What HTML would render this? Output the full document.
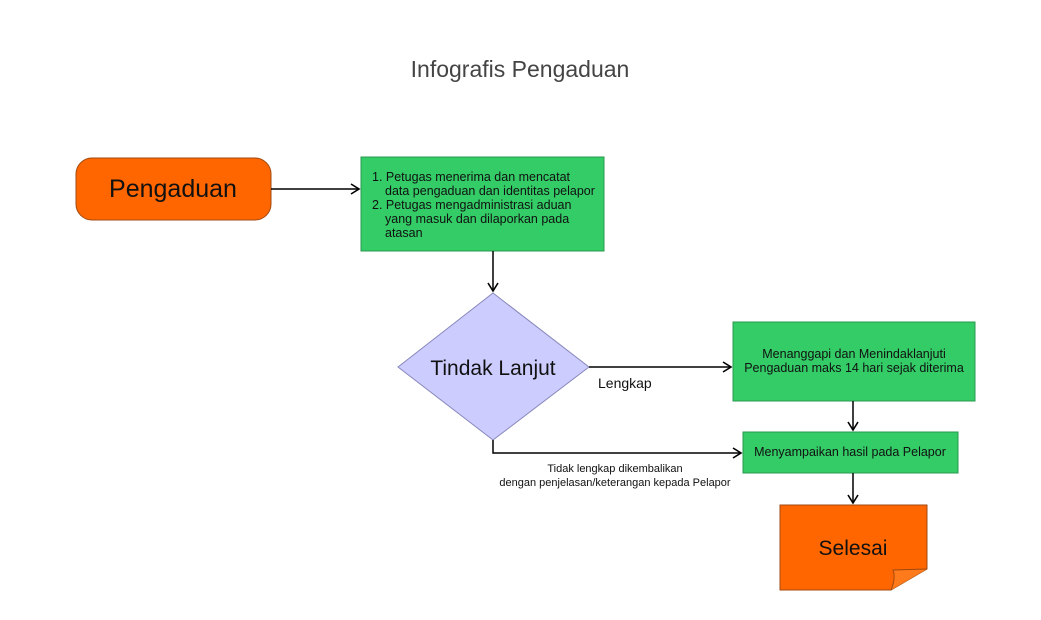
<!DOCTYPE html>
<html><head><meta charset="utf-8"><style>
html,body{margin:0;padding:0;background:#fff;width:1041px;height:620px;overflow:hidden}
svg{display:block}
text{font-family:"Liberation Sans",Arial,sans-serif;fill:#111}
</style></head><body>
<svg width="1041" height="620" viewBox="0 0 1041 620" xmlns="http://www.w3.org/2000/svg">
<defs><marker id="a" markerWidth="12" markerHeight="12" refX="10" refY="6" orient="auto" markerUnits="userSpaceOnUse"><path d="M2,1 L10,6 L2,11" fill="none" stroke="#000" stroke-width="1.6"/></marker></defs>
<text x="520" y="77" text-anchor="middle" style="font-size:23px;fill:#444">Infografis Pengaduan</text>
<rect x="76" y="158" width="195" height="62" rx="16" fill="#ff6600" stroke="#a04a10" stroke-width="1"/>
<text x="173" y="197" text-anchor="middle" style="font-size:25px">Pengaduan</text>
<line x1="271" y1="189" x2="359" y2="189" stroke="#000" stroke-width="1.5" marker-end="url(#a)"/>
<rect x="361" y="157" width="243" height="94" fill="#33cc66" stroke="#2a9a50" stroke-width="1"/>
<g style="font-size:12.5px">
<text x="372" y="181">1. Petugas menerima dan mencatat</text>
<text x="385" y="195">data pengaduan dan identitas pelapor</text>
<text x="372" y="209">2. Petugas mengadministrasi aduan</text>
<text x="385" y="223">yang masuk dan dilaporkan pada</text>
<text x="385" y="237">atasan</text>
</g>
<line x1="493" y1="251" x2="493" y2="291" stroke="#000" stroke-width="1.5" marker-end="url(#a)"/>
<polygon points="493,293 589,367 493,440 398,367" fill="#ccccff" stroke="#8888bb" stroke-width="1"/>
<text x="493" y="375" text-anchor="middle" style="font-size:21px">Tindak Lanjut</text>
<line x1="589" y1="367" x2="731" y2="367" stroke="#000" stroke-width="1.5" marker-end="url(#a)"/>
<text x="598" y="388" style="font-size:14px">Lengkap</text>
<rect x="733" y="322" width="242" height="79" fill="#33cc66" stroke="#2a9a50" stroke-width="1"/>
<text x="854" y="358" text-anchor="middle" style="font-size:12.5px">Menanggapi dan Menindaklanjuti</text>
<text x="854" y="372" text-anchor="middle" style="font-size:12.5px">Pengaduan maks 14 hari sejak diterima</text>
<line x1="853" y1="401" x2="853" y2="430" stroke="#000" stroke-width="1.5" marker-end="url(#a)"/>
<rect x="743" y="432" width="215" height="41" fill="#33cc66" stroke="#2a9a50" stroke-width="1"/>
<text x="850" y="456" text-anchor="middle" style="font-size:12.5px">Menyampaikan hasil pada Pelapor</text>
<polyline points="493,440 493,453 741,453" fill="none" stroke="#000" stroke-width="1.5" marker-end="url(#a)"/>
<text x="615" y="472" text-anchor="middle" style="font-size:11px">Tidak lengkap dikembalikan</text>
<text x="615" y="486" text-anchor="middle" style="font-size:11px">dengan penjelasan/keterangan kepada Pelapor</text>
<line x1="853" y1="473" x2="853" y2="503" stroke="#000" stroke-width="1.5" marker-end="url(#a)"/>
<path d="M780,505 L927,505 L927,569 L891,590 L780,590 Z" fill="#ff6600" stroke="#a04a10" stroke-width="1"/>
<path d="M891,590 Q896,578 893,570 L927,569" fill="#ff7a1a" stroke="#a04a10" stroke-width="1"/>
<text x="853" y="555" text-anchor="middle" style="font-size:21px">Selesai</text>
</svg>
</body></html>
